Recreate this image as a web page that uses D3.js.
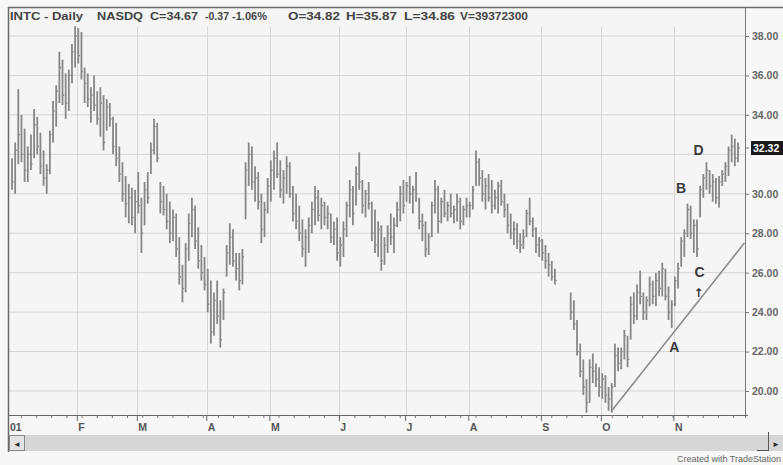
<!DOCTYPE html>
<html>
<head>
<meta charset="utf-8">
<script src="https://cdn.jsdelivr.net/npm/d3@7"></script>
<style>
  body { margin: 0; background: #f7f7f7; }
  svg { display: block; font-family: "Liberation Sans", Arial, sans-serif; }
</style>
</head>
<body>
<div id="chart-container"></div>
<script>
// daily bars, Jan 2 .. Nov 30 (slots 173-176 = market closed, null)
const highs = [
  31.8,32.6,35.3,34.0,33.3,32.4,33.0,34.3,33.9,33.1,32.2,31.5,33.2,34.7,35.5,37.2,36.8,36.1,36.3,37.6,38.5,
  38.4,38.2,36.4,36.1,35.4,36.0,35.2,35.4,35.0,34.8,34.6,33.9,33.6,32.4,31.6,30.9,30.5,30.3,30.2,
  31.1,29.8,30.6,31.1,32.6,33.8,33.6,30.6,30.4,30.0,29.6,29.2,29.0,27.8,26.4,27.5,29.0,29.8,29.4,28.3,27.4,26.8,
  26.2,25.6,25.0,25.6,24.6,25.2,27.4,28.5,28.2,27.0,27.0,27.2,31.6,32.6,32.4,31.4,31.1,30.0,29.6,30.8,
  31.7,32.2,32.6,31.7,31.2,31.9,31.6,30.4,30.0,29.4,28.7,28.2,28.8,29.6,30.4,30.2,29.8,29.6,29.4,29.0,28.6,28.8,
  27.8,28.6,29.6,30.7,30.4,31.4,32.1,30.7,30.2,30.6,29.6,29.2,28.6,28.4,27.8,28.4,29.0,28.8,29.6,30.4,30.7,
  30.6,30.9,30.4,31.1,29.8,29.0,28.6,28.0,29.6,30.7,30.4,29.8,30.2,29.6,30.0,29.4,30.0,29.8,29.4,29.8,
  29.6,30.4,32.2,31.8,31.2,30.8,31.0,30.7,30.2,30.6,30.7,30.0,29.5,29.0,28.6,28.5,28.0,28.2,29.2,29.8,28.8,28.3,27.8,
  27.7,27.4,27.0,26.6,26.2,null,null,null,null,25.0,24.6,23.6,22.4,21.6,20.6,21.6,21.9,21.4,21.2,
  20.9,20.8,20.2,20.4,22.4,22.2,22.2,23.1,22.8,24.8,25.0,25.4,26.1,25.0,24.8,25.8,25.6,26.0,26.1,26.5,26.2,25.3,24.6,
  25.8,26.5,27.8,28.2,29.5,29.4,28.7,28.7,30.4,31.0,31.6,31.2,31.0,30.8,30.9,31.2,31.6,32.4,33.0,32.8,32.6
];
const lows = [
  30.2,30.0,31.5,31.6,30.6,30.6,31.2,31.8,32.0,31.0,30.4,30.0,31.0,32.6,33.4,34.6,34.5,33.8,34.2,35.6,36.4,
  36.6,35.8,34.6,34.4,33.6,34.2,33.5,32.9,32.2,33.2,33.4,32.0,31.4,30.6,29.6,28.8,28.5,28.4,28.0,
  29.0,27.0,28.4,29.5,31.0,32.0,31.6,29.0,28.9,28.2,27.5,27.6,26.8,25.4,24.5,25.0,26.6,27.8,27.2,26.2,25.6,25.1,
  24.0,22.4,22.8,23.4,22.2,23.6,25.8,26.4,26.3,25.6,25.1,25.4,28.7,30.4,30.2,29.6,29.2,27.5,27.8,29.0,
  29.6,30.2,30.8,29.8,29.5,30.0,29.8,28.6,28.2,27.6,26.8,26.3,27.0,28.0,28.4,28.6,28.2,28.4,28.2,27.5,27.4,26.6,
  26.3,26.8,27.8,28.8,28.4,29.4,30.2,29.0,28.8,29.2,27.6,27.0,26.8,26.1,26.4,27.0,27.4,27.0,28.3,28.6,29.0,
  29.6,29.5,29.0,29.6,28.2,27.6,26.8,26.9,27.8,29.0,28.0,28.5,28.8,28.6,28.8,28.5,28.6,28.2,28.4,28.8,
  28.8,29.2,30.4,30.4,29.6,29.2,29.6,29.0,29.2,29.0,29.4,28.8,28.0,27.7,27.4,27.2,27.0,27.2,27.8,28.4,27.8,27.0,26.8,
  26.6,26.2,25.8,25.6,25.4,null,null,null,null,23.6,23.1,21.8,20.7,19.8,18.9,19.4,20.4,20.2,19.7,
  19.6,19.4,19.0,18.9,20.2,21.0,21.1,21.6,21.2,22.6,23.4,23.6,24.4,23.6,23.6,24.3,24.4,24.3,24.8,24.8,24.6,23.6,23.2,
  24.3,25.2,26.3,26.8,27.8,27.7,27.0,26.8,28.8,29.8,30.2,30.0,29.6,29.5,29.3,30.4,30.6,30.9,31.6,31.4,31.6
];
const closes = [
  30.6,32.2,33.0,32.0,31.2,32.0,31.5,33.5,32.4,31.4,30.8,31.2,33.0,34.2,35.2,36.4,35.0,34.6,36.0,37.2,38.0,
  37.0,36.2,35.6,34.8,35.0,34.5,33.8,34.6,32.6,34.4,33.8,32.4,31.8,31.0,30.0,29.5,29.8,28.8,29.6,
  29.4,28.0,30.2,29.8,32.2,33.4,31.8,29.6,29.2,28.6,28.0,28.8,27.2,25.8,25.2,27.2,28.5,29.2,27.6,26.6,26.0,25.4,
  24.4,23.0,24.6,23.8,22.6,25.0,27.0,27.8,26.6,26.2,25.6,26.8,31.2,32.0,30.6,30.8,29.6,28.2,29.2,30.4,
  31.2,31.8,31.0,30.2,30.8,31.4,30.0,29.0,28.6,28.0,27.2,27.8,28.4,29.2,29.8,28.9,29.4,28.8,29.0,27.8,28.2,27.0,
  27.4,28.2,29.4,30.2,29.0,31.0,30.6,29.4,30.0,29.5,28.0,27.4,28.2,26.6,27.4,28.0,27.8,28.4,29.2,30.0,29.4,
  30.4,30.0,30.2,30.0,28.6,28.4,27.2,27.8,29.4,30.2,28.6,29.6,29.0,29.4,29.0,29.2,29.6,28.6,29.2,29.4,
  29.4,30.2,31.6,30.8,30.0,30.4,29.8,29.4,29.8,30.4,29.6,29.2,28.4,28.0,28.2,27.6,27.4,27.8,29.0,28.6,28.2,27.4,27.6,
  27.0,26.6,26.4,25.8,25.6,null,null,null,null,24.0,23.4,22.0,21.0,20.2,19.4,21.2,21.0,20.6,20.2,
  20.6,19.8,19.6,20.2,21.8,21.4,22.0,22.8,21.6,24.4,23.8,25.0,24.8,24.0,24.6,25.4,24.8,25.6,25.2,26.2,24.8,24.0,24.4,
  25.6,26.2,27.6,28.0,29.2,28.0,28.4,27.2,30.2,30.8,31.2,30.4,30.6,29.8,30.6,31.0,31.4,32.2,32.4,31.8,32.32
];

const monthLabels = ["01", "F", "M", "A", "M", "J", "J", "A", "S", "O", "N"];
const monthStarts = [0, 21, 40, 62, 82, 104, 125, 145, 168, 187, 210];
const gridPrices = [20, 22, 24, 26, 28, 30, 32, 34, 36, 38];
const labelPrices = [20, 22, 24, 26, 28, 30, 34, 36, 38];
const lastPrice = 32.32;

const titleParts = ["INTC - Daily", "NASDQ", "C=34.67", "-0.37", "-1.06%", "O=34.82", "H=35.87", "L=34.86", "V=39372300"];
const titleX = [10, 97, 150, 205, 232, 288, 346, 404, 460];
const titleW = [73, 46, 48, 24, 35, 52, 51, 51, 68];

// trend line under the Oct-Nov lows
const trendIdx = [190, 232];
const trendPrice = [19.0, 27.5];

// wave labels
const noteText = ["A", "B", "C", "D"];
const noteIdx = [209.8, 212, 217.8, 217.5];
const notePrice = [22.23, 30.29, 26.03, 32.22];
const arrowIdx = 217.5, arrowPrice = 25.0;

const width = 783, height = 465;
const plot = {left: 8, top: 7, right: 745, bottom: 415};

const svg = d3.select("#chart-container")
  .append("svg")
    .attr("width", width)
    .attr("height", height);

svg.append("rect").attr("width", width).attr("height", height).attr("fill", "#f7f7f7");
svg.append("rect")
    .attr("x", plot.left).attr("y", plot.top)
    .attr("width", plot.right - plot.left).attr("height", plot.bottom - plot.top)
    .attr("fill", "#f5f5f5");

const x = d3.scaleLinear().domain([0, 230]).range([12, 738]);
const y = d3.scaleLinear().domain([20, 38]).range([391, 36]);

// grid
svg.append("g")
  .selectAll("line")
  .data(gridPrices)
  .enter().append("line")
    .attr("x1", plot.left).attr("x2", plot.right)
    .attr("y1", d => y(d)).attr("y2", d => y(d))
    .attr("stroke", "#d6d6d6").attr("stroke-width", 1);

svg.append("g")
  .selectAll("line")
  .data(monthStarts.slice(1))
  .enter().append("line")
    .attr("x1", d => Math.round(x(d - 0.3)) + 0.5).attr("x2", d => Math.round(x(d - 0.3)) + 0.5)
    .attr("y1", 27).attr("y2", plot.bottom)
    .attr("stroke", "#d6d6d6").attr("stroke-width", 1);

// bars
const bars = svg.append("g").attr("stroke", "#878787");
highs.forEach(function (h, i) {
  if (h === null) return;
  bars.append("line")
    .attr("x1", x(i)).attr("x2", x(i))
    .attr("y1", y(h)).attr("y2", y(lows[i]))
    .attr("stroke-width", 1.8);
  bars.append("line")
    .attr("x1", x(i)).attr("x2", x(i) + 1.7)
    .attr("y1", y(closes[i])).attr("y2", y(closes[i]))
    .attr("stroke-width", 1.3);
});

// trend line
svg.append("line")
    .attr("x1", x(trendIdx[0])).attr("y1", y(trendPrice[0]))
    .attr("x2", x(trendIdx[1])).attr("y2", y(trendPrice[1]))
    .attr("stroke", "#8c8c8c").attr("stroke-width", 1.6);

// labels A B C D and the arrow under C
svg.append("g")
  .selectAll("text")
  .data(noteText)
  .enter().append("text")
    .attr("x", (d, i) => x(noteIdx[i]))
    .attr("y", (d, i) => y(notePrice[i]) + 5)
    .attr("text-anchor", "middle")
    .style("font-size", "14px")
    .style("font-weight", "bold")
    .attr("fill", "#3a3a3a")
    .text(d => d);

svg.append("text")
    .attr("x", x(arrowIdx))
    .attr("y", y(arrowPrice) + 5)
    .attr("text-anchor", "middle")
    .style("font-family", "'DejaVu Sans', sans-serif")
    .style("font-size", "12px")
    .style("font-weight", "bold")
    .attr("fill", "#333333")
    .text("\u2191");

// title
svg.append("g")
  .selectAll("text")
  .data(titleParts)
  .enter().append("text")
    .attr("x", (d, i) => titleX[i])
    .attr("y", 20)
    .attr("textLength", (d, i) => titleW[i])
    .attr("lengthAdjust", "spacingAndGlyphs")
    .style("font-size", "11.5px")
    .style("font-weight", "bold")
    .attr("fill", "#444")
    .text(d => d);

// right price axis
const yAxis = svg.append("g")
    .attr("transform", "translate(" + plot.right + ",0)")
    .call(d3.axisRight(y).tickValues(labelPrices).tickFormat(d3.format(".2f")).tickSize(4).tickPadding(3));
yAxis.select(".domain").remove();
yAxis.selectAll("line").attr("stroke", "#777");
yAxis.selectAll("text")
    .style("font-size", "10.5px").style("font-weight", "bold")
    .style("font-family", "'Liberation Sans', Arial, sans-serif")
    .attr("fill", "#666");

svg.append("line")
    .attr("x1", plot.right).attr("x2", plot.right + 4)
    .attr("y1", y(lastPrice)).attr("y2", y(lastPrice))
    .attr("stroke", "#777");
svg.append("rect")
    .attr("x", 751).attr("y", y(lastPrice) - 7)
    .attr("width", 34).attr("height", 14)
    .attr("fill", "#1a1a1a");
svg.append("text")
    .attr("x", 753).attr("y", y(lastPrice) + 4)
    .style("font-size", "10.5px").style("font-weight", "bold")
    .attr("fill", "#fff")
    .text(d3.format(".2f")(lastPrice));

// frame
svg.append("line").attr("x1", plot.left).attr("x2", width).attr("y1", plot.top + 0.5).attr("y2", plot.top + 0.5)
    .attr("stroke", "#6a6a6a").attr("stroke-width", 1.5);
svg.append("line").attr("x1", plot.left + 0.5).attr("x2", plot.left + 0.5).attr("y1", plot.top).attr("y2", 452)
    .attr("stroke", "#6a6a6a").attr("stroke-width", 1.5);
svg.append("line").attr("x1", plot.right + 0.5).attr("x2", plot.right + 0.5).attr("y1", plot.top).attr("y2", plot.bottom + 3)
    .attr("stroke", "#777").attr("stroke-width", 1);

// bottom time axis
svg.append("line").attr("x1", plot.left).attr("x2", plot.right + 3).attr("y1", plot.bottom + 0.5).attr("y2", plot.bottom + 0.5)
    .attr("stroke", "#666").attr("stroke-width", 1.2);

svg.append("g")
  .selectAll("line")
  .data(d3.range(3, 231, 4.8))
  .enter().append("line")
    .attr("x1", d => x(d)).attr("x2", d => x(d))
    .attr("y1", plot.bottom).attr("y2", plot.bottom + 3)
    .attr("stroke", "#777");

svg.append("g")
  .selectAll("line")
  .data(monthStarts.slice(1))
  .enter().append("line")
    .attr("x1", d => x(d - 0.3)).attr("x2", d => x(d - 0.3))
    .attr("y1", plot.bottom).attr("y2", plot.bottom + 6)
    .attr("stroke", "#666");

svg.append("g")
  .selectAll("text")
  .data(monthLabels)
  .enter().append("text")
    .attr("x", (d, i) => i === 0 ? 10 : x(monthStarts[i] - 0.3) + 1)
    .attr("y", 431)
    .style("font-size", "10.5px")
    .style("font-weight", "bold")
    .attr("fill", "#555")
    .text(d => d);

// scroll bar
svg.append("rect").attr("x", 9).attr("y", 435).attr("width", width - 9).attr("height", 16)
    .attr("fill", "#d6d6d6");
svg.append("rect").attr("x", 9.5).attr("y", 435.5).attr("width", 15).attr("height", 15)
    .attr("fill", "#e4e4e4").attr("stroke", "#888");
svg.append("text").attr("x", 17).attr("y", 446.5).attr("text-anchor", "middle")
    .style("font-size", "8px").attr("fill", "#333").text("\u25C4");
svg.append("line").attr("x1", 768.5).attr("x2", 768.5).attr("y1", 432).attr("y2", 451).attr("stroke", "#555");
svg.append("line").attr("x1", 757).attr("x2", 768).attr("y1", 450.5).attr("y2", 450.5).attr("stroke", "#555");
svg.append("text").attr("x", 776).attr("y", 446.5).attr("text-anchor", "middle")
    .style("font-size", "8px").attr("fill", "#333").text("\u25BA");

svg.append("text")
    .attr("x", 781).attr("y", 462)
    .attr("text-anchor", "end")
    .style("font-size", "9px")
    .attr("fill", "#666")
    .text("Created with TradeStation");
</script>
</body>
</html>
